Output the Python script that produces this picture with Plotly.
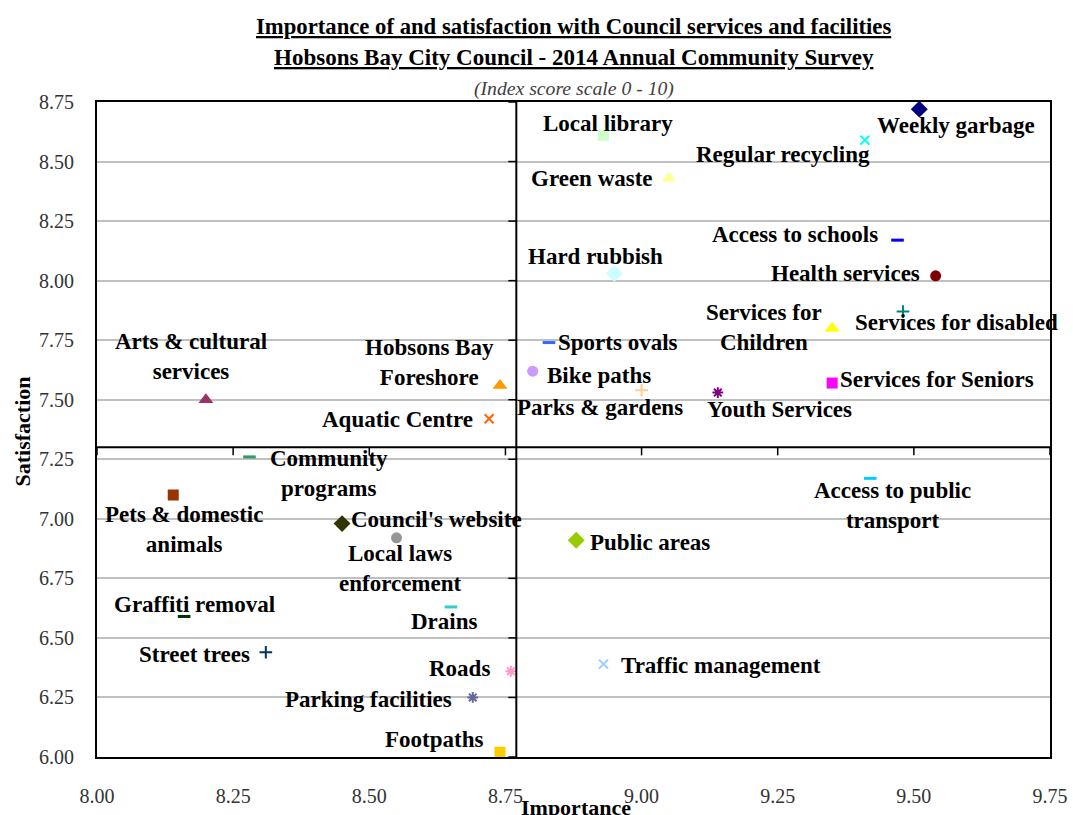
import plotly.graph_objects as go

# Council services: importance (x) and satisfaction (y) index scores
services = [
    "Weekly garbage", "Regular recycling", "Local library", "Green waste",
    "Access to schools", "Hard rubbish", "Health services", "Services for disabled",
    "Services for<br>Children", "Sports ovals", "Bike paths", "Services for Seniors",
    "Parks & gardens", "Youth Services", "Hobsons Bay<br>Foreshore", "Aquatic Centre",
    "Arts & cultural<br>services", "Community<br>programs", "Pets & domestic<br>animals",
    "Council's website", "Local laws<br>enforcement", "Public areas",
    "Access to public<br>transport", "Graffiti removal", "Drains", "Street trees",
    "Roads", "Parking facilities", "Footpaths", "Traffic management",
]
importance = [
    9.51, 9.41, 8.93, 9.05, 9.47, 8.95, 9.54, 9.48, 9.35, 8.83,
    8.80, 9.35, 9.00, 9.14, 8.74, 8.72, 8.20, 8.28, 8.14, 8.45,
    8.55, 8.88, 9.42, 8.16, 8.65, 8.31, 8.76, 8.69, 8.74, 8.93,
]
satisfaction = [
    8.72, 8.59, 8.61, 8.43, 8.17, 8.03, 8.02, 7.87, 7.80, 7.74,
    7.62, 7.57, 7.54, 7.53, 7.56, 7.42, 7.50, 7.26, 7.10, 6.98,
    6.92, 6.91, 7.17, 6.59, 6.63, 6.44, 6.36, 6.25, 6.02, 6.39,
]

# Axis crossing values (average importance / satisfaction)
importance_avg = 8.77
satisfaction_avg = 7.30

x_ticks = [8.00, 8.25, 8.50, 8.75, 9.00, 9.25, 9.50, 9.75]
y_ticks = [6.00, 6.25, 6.50, 6.75, 7.00, 7.25, 7.50, 7.75, 8.00, 8.25, 8.50, 8.75]

# Marker style per service
symbols = [
    "diamond", "x-thin", "square", "triangle-up", "line-ew", "diamond", "circle",
    "cross-thin", "triangle-up", "line-ew", "circle", "square", "cross-thin",
    "asterisk", "triangle-up", "x-thin", "triangle-up", "line-ew", "square",
    "diamond", "circle", "diamond", "line-ew", "line-ew", "line-ew", "cross-thin",
    "asterisk", "asterisk", "square", "x-thin",
]
colors = [
    "#000080", "#00FFFF", "#CCFFCC", "#FFFF99", "#0000FF", "#CCFFFF", "#800000",
    "#008080", "#FFFF00", "#3366FF", "#CC99FF", "#FF00FF", "#FFCC99", "#800080",
    "#FF9900", "#FF6600", "#993366", "#339966", "#993300", "#333300", "#969696",
    "#99CC00", "#00CCFF", "#003300", "#33CCCC", "#003366", "#FF99CC", "#666699",
    "#FFCC00", "#99CCFF",
]

# Label placement relative to each marker, in pixels (right, down)
label_offsets = [
    (37, 16), (-82, 14), (5, -12), (-77, 0), (-103, -6), (-19, -17), (-90, -2),
    (54, 11), (-68, -1), (69, 0), (66, 4), (105, -4), (-42, 17), (62, 17),
    (-70, -23), (-92, 1), (-15, -43), (80, 17), (11, 34), (94, -4), (4, 31),
    (74, 2), (22, 27), (10, -12), (-6, 15), (-71, 2), (-51, -3), (-104, 2),
    (-66, -13), (118, 1),
]

SERIF = "Liberation Serif, Times New Roman, serif"
LABEL_SIZE = 23

fig = go.Figure()

for name, xv, yv, sym, col in zip(services, importance, satisfaction, symbols, colors):
    open_sym = sym in ("line-ew", "x-thin", "cross-thin", "asterisk")
    marker = dict(symbol=sym, color=col)
    if sym == "line-ew":
        marker.update(size=9, line=dict(color=col, width=3))
    elif open_sym:
        marker.update(size=9, line=dict(color=col, width=2))
    elif sym in ("diamond", "triangle-up"):
        marker.update(size=13, line=dict(width=0))
    else:
        marker.update(size=11, line=dict(width=0))
    fig.add_trace(go.Scatter(
        x=[xv], y=[yv], mode="markers", marker=marker,
        name=name.replace("<br>", " "), showlegend=False, cliponaxis=False,
    ))

annotations = []
for name, xv, yv, (dx, dy) in zip(services, importance, satisfaction, label_offsets):
    annotations.append(dict(
        x=xv, y=yv, xref="x", yref="y", text=f"<b>{name}</b>", showarrow=False,
        xanchor="center", yanchor="middle", xshift=dx, yshift=-dy,
        font=dict(family=SERIF, size=LABEL_SIZE, color="#000000"),
    ))

# Titles
title_lines = [
    ("<b><u>Importance of and satisfaction with Council services and facilities</u></b>", 76, 22.7, "#000000"),
    ("<b><u>Hobsons Bay City Council - 2014 Annual Community Survey</u></b>", 45, 23, "#000000"),
    ("<i>(Index score scale 0 - 10)</i>", 14, 19.7, "#404040"),
]
for text, shift, size, col in title_lines:
    annotations.append(dict(
        x=0.5, y=1, xref="paper", yref="paper", text=text, showarrow=False,
        xanchor="center", yanchor="middle", yshift=shift,
        font=dict(family=SERIF, size=size, color=col),
    ))

# Axis titles
annotations.append(dict(
    x=0.503, y=0, xref="paper", yref="paper", text="<b>Importance</b>",
    showarrow=False, xanchor="center", yanchor="middle", yshift=-50,
    font=dict(family=SERIF, size=22, color="#000000"),
))
annotations.append(dict(
    x=0, y=0.497, xref="paper", yref="paper", text="<b>Satisfaction</b>",
    showarrow=False, xanchor="center", yanchor="middle", xshift=-75, textangle=-90,
    font=dict(family=SERIF, size=22, color="#000000"),
))

# Crossing axes at the averages, with their tick marks
shapes = [
    dict(type="line", xref="x", yref="y", x0=importance_avg, x1=importance_avg,
         y0=y_ticks[0], y1=y_ticks[-1], line=dict(color="#000000", width=2)),
    dict(type="line", xref="x", yref="y", x0=x_ticks[0], x1=x_ticks[-1],
         y0=satisfaction_avg, y1=satisfaction_avg, line=dict(color="#000000", width=2)),
]
for v in y_ticks:
    shapes.append(dict(
        type="line", xref="x", yref="y", xsizemode="pixel", xanchor=importance_avg,
        x0=-8, x1=0, y0=v, y1=v, line=dict(color="#000000", width=1.5),
    ))
for v in x_ticks:
    shapes.append(dict(
        type="line", xref="x", yref="y", ysizemode="pixel", yanchor=satisfaction_avg,
        y0=-8, y1=0, x0=v, x1=v, line=dict(color="#000000", width=1.5),
    ))

fig.update_layout(
    width=1073, height=815,
    margin=dict(l=97, r=23, t=102, b=58, autoexpand=False),
    paper_bgcolor="#FFFFFF", plot_bgcolor="#FFFFFF",
    font=dict(family=SERIF, color="#000000"),
    annotations=annotations, shapes=shapes,
    xaxis=dict(
        range=[x_ticks[0], x_ticks[-1]], tickvals=x_ticks,
        ticktext=[f"{v:.2f}" for v in x_ticks], automargin=False,
        showgrid=False, zeroline=False, showline=True, mirror=True,
        linecolor="#000000", linewidth=2,
        ticks="outside", ticklen=20, tickcolor="rgba(0,0,0,0)",
        tickfont=dict(family=SERIF, size=20, color="#333333"),
    ),
    yaxis=dict(
        range=[y_ticks[0], y_ticks[-1]], tickvals=y_ticks,
        ticktext=[f"{v:.2f}" for v in y_ticks], automargin=False,
        showgrid=True, gridcolor="#C0C0C0", gridwidth=1.5, zeroline=False,
        showline=True, mirror=True, linecolor="#000000", linewidth=2,
        ticks="outside", ticklen=17, tickcolor="rgba(0,0,0,0)",
        tickfont=dict(family=SERIF, size=20, color="#333333"),
    ),
)

fig.write_html("out.html")
